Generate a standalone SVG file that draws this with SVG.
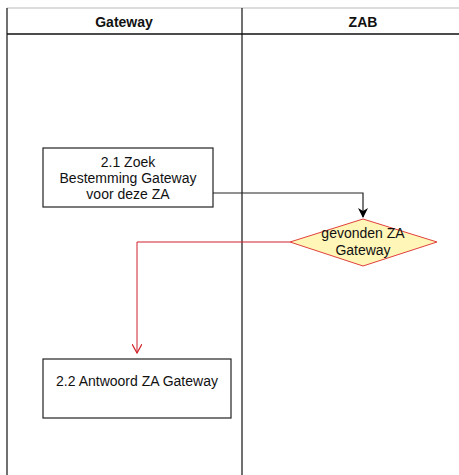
<svg xmlns="http://www.w3.org/2000/svg" width="459" height="475" viewBox="0 0 459 475">
<defs>
<style>
text{font-family:"Liberation Sans",Arial,sans-serif;fill:#111;}
.hdr{font-size:14px;font-weight:bold;text-anchor:middle;}
.lbl{font-size:14px;text-anchor:middle;}
.box{fill:#fff;stroke:#222;stroke-width:1.2;}
</style>
<marker id="ab" viewBox="0 0 10 10" refX="9" refY="5" markerWidth="10" markerHeight="10" markerUnits="userSpaceOnUse" orient="auto"><path d="M0,0 L10,5 L0,10 L3,5 Z" fill="#000"/></marker>
<marker id="ar" viewBox="0 0 10 10" refX="9" refY="5" markerWidth="10" markerHeight="10" markerUnits="userSpaceOnUse" orient="auto"><path d="M0,0 L9,5 L0,10" fill="none" stroke="#d0202a" stroke-width="1.2"/></marker>
</defs>
<rect x="0" y="0" width="459" height="475" fill="#fff"/>
<g id="lanes">
<line x1="7" y1="8" x2="459" y2="8" stroke="#bbb" stroke-width="1"/>
<line x1="7" y1="34" x2="459" y2="34" stroke="#111" stroke-width="1.5"/>
<line x1="7" y1="8" x2="7" y2="475" stroke="#111" stroke-width="1.2"/>
<line x1="242" y1="8" x2="242" y2="475" stroke="#111" stroke-width="1.2"/>
<text class="hdr" x="124" y="27">Gateway</text>
<text class="hdr" x="363" y="27">ZAB</text>
</g>
<g id="connectors" fill="none">
<polyline points="213,193 363,193 363,217" stroke="#222" stroke-width="1.2" marker-end="url(#ab)"/>
<polyline points="290,242 137,242 137,353" stroke="#d0202a" stroke-width="1" marker-end="url(#ar)"/>
</g>
<g id="n21">
<rect class="box" x="43" y="148" width="170" height="59"/>
<text class="lbl" x="128" y="167">2.1 Zoek</text>
<text class="lbl" x="128" y="183">Bestemming Gateway</text>
<text class="lbl" x="128" y="199">voor deze ZA</text>
</g>
<g id="dec">
<polygon points="363,219 437,242 363,266 290,242" fill="#fff6b8" stroke="#e0403a" stroke-width="1"/>
<text class="lbl" x="363" y="238">gevonden ZA</text>
<text class="lbl" x="363" y="255">Gateway</text>
</g>
<g id="n22">
<rect class="box" x="43" y="359" width="188" height="59"/>
<text class="lbl" x="137" y="386">2.2 Antwoord ZA Gateway</text>
</g>
</svg>
